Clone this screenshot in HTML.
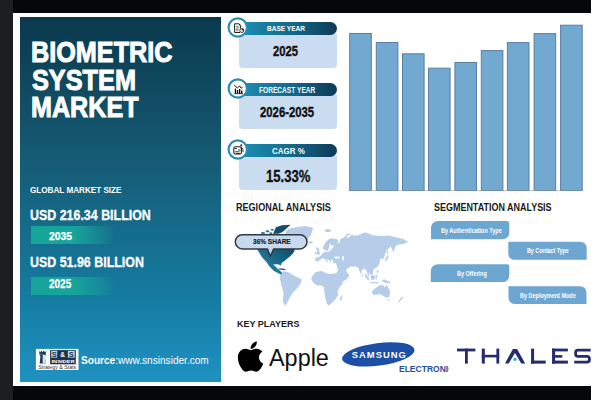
<!DOCTYPE html>
<html><head><meta charset="utf-8">
<style>
*{margin:0;padding:0;box-sizing:border-box}
html,body{width:600px;height:400px;overflow:hidden;background:#fff;font-family:"Liberation Sans",sans-serif}
.abs{position:absolute}
#leftstrip{left:0;top:0;width:13px;height:400px;background:#1c1f21}
#topbar{left:13px;top:0;width:578px;height:13px;background:#050708}
#botbar{left:13px;top:386px;width:578px;height:14px;background:#050708}
#card{left:13px;top:13px;width:578px;height:373px;background:#fff}
#panel{left:20px;top:17px;width:201px;height:365px;background:linear-gradient(180deg,#0a394d 0%,#155a73 38%,#157ba0 76%,#1f92c2 100%)}
.title{left:32px;color:#fff;font-weight:bold;font-size:27px;line-height:28px;white-space:nowrap}
.lbl{color:#fff;font-weight:bold;white-space:nowrap}
.tx{white-space:nowrap;line-height:1;transform-origin:0 0}
.b{font-weight:bold}
.bar{left:31.3px;width:84px;height:18px;background:linear-gradient(90deg,#16a59b 0%,#17a49a 50%,rgba(23,164,154,0.45) 80%,rgba(23,164,154,0) 100%)}
.card3{left:239px;width:98px;background:#c9dcf0;border-radius:0 0 4px 4px}
.hdr{left:240px;width:97.4px;border-radius:0 7px 7px 0;background:linear-gradient(90deg,#1b8fb3 0%,#136c8e 50%,#0e3a56 100%);color:#fff;font-weight:bold;font-size:8px;text-align:center;line-height:13px}
.circ{width:20px;height:20px;border-radius:50%;border:2px solid #268db5;background:#fff}
.val{color:#111;font-weight:bold;text-align:center;white-space:nowrap}
.cbar{width:23px;background:#6ca7d5;border:1px solid #5a86aa;border-bottom:none}
.sec{color:#1a1a1a;font-weight:bold;font-size:10px;white-space:nowrap}
.seg{height:18px;background:#6fa6d1;color:#fff;font-size:8px;text-align:center;line-height:18px;white-space:nowrap}
</style></head><body>
<div class="abs" id="leftstrip"></div>
<div class="abs" id="topbar"></div>
<div class="abs" id="card"></div>
<div class="abs" id="botbar"></div>
<div class="abs" id="panel"></div>

<div class="abs tx b" style="left:31.4px;top:37.2px;font-size:29.5px;transform:scaleX(0.855);color:#fff;-webkit-text-stroke:1px #fff">BIOMETRIC</div>
<div class="abs tx b" style="left:31.9px;top:64.9px;font-size:29.5px;transform:scaleX(0.857);color:#fff;-webkit-text-stroke:1px #fff">SYSTEM</div>
<div class="abs tx b" style="left:30.9px;top:92.2px;font-size:29.5px;transform:scaleX(0.852);color:#fff;-webkit-text-stroke:1px #fff">MARKET</div>

<div class="abs tx b" style="left:30.2px;top:185.8px;font-size:9.3px;transform:scaleX(0.874);color:#fff">GLOBAL MARKET SIZE</div>
<div class="abs tx b" style="left:30.4px;top:206.7px;font-size:15.2px;transform:scaleX(0.818);color:#fff;-webkit-text-stroke:0.3px #fff">USD 216.34 BILLION</div>
<div class="abs bar" style="top:226px"></div>
<div class="abs tx b" style="left:48.7px;top:230.7px;font-size:11.3px;transform:scaleX(0.92);color:#fff;-webkit-text-stroke:0.25px #fff">2035</div>
<div class="abs tx b" style="left:30.4px;top:253.6px;font-size:15.2px;transform:scaleX(0.818);color:#fff;-webkit-text-stroke:0.3px #fff">USD 51.96 BILLION</div>
<div class="abs bar" style="top:277px"></div>
<div class="abs tx b" style="left:49.4px;top:279.3px;font-size:11.9px;transform:scaleX(0.84);color:#fff;-webkit-text-stroke:0.25px #fff">2025</div>

<!-- logo -->
<div class="abs tx" style="left:80.6px;top:355.1px;font-size:10.5px;transform:scaleX(0.96);color:#fff"><b>Source</b>:www.snsinsider.com</div>

<!-- info cards -->
<div class="abs card3" style="top:34px;height:34px"></div>
<div class="abs hdr" style="top:21.7px;height:12.9px"></div>
<div class="abs tx b" style="left:267.3px;top:25px;font-size:8px;transform:scaleX(0.814);color:#fff">BASE YEAR</div>
<div class="abs tx b" style="left:272.8px;top:44.15px;font-size:14px;transform:scaleX(0.806);color:#111;-webkit-text-stroke:0.35px #111">2025</div>

<div class="abs card3" style="top:95px;height:34px"></div>
<div class="abs hdr" style="top:82.6px;height:13.1px"></div>
<div class="abs tx b" style="left:259.4px;top:86.6px;font-size:8.17px;transform:scaleX(0.809);color:#fff">FORECAST YEAR</div>
<div class="abs tx b" style="left:259.9px;top:106.4px;font-size:13.9px;transform:scaleX(0.815);color:#111;-webkit-text-stroke:0.35px #111">2026-2035</div>

<div class="abs card3" style="top:156px;height:33.5px"></div>
<div class="abs hdr" style="top:143.5px;height:13.4px"></div>
<div class="abs tx b" style="left:272.2px;top:145.9px;font-size:9.44px;transform:scaleX(0.846);color:#fff">CAGR %</div>
<div class="abs tx b" style="left:266.1px;top:168.9px;font-size:16.76px;transform:scaleX(0.779);color:#111;-webkit-text-stroke:0.35px #111">15.33%</div>

<svg class="abs" style="left:0;top:0" width="600" height="400" viewBox="0 0 600 400">
<g id="bars"><rect x="349.7" y="33.5" width="21.6" height="157.0" fill="#71a9d0" stroke="#5b7fa0" stroke-width="1"/><rect x="376.3" y="42.5" width="21.6" height="148.0" fill="#71a9d0" stroke="#5b7fa0" stroke-width="1"/><rect x="402.5" y="53.8" width="21.6" height="136.7" fill="#71a9d0" stroke="#5b7fa0" stroke-width="1"/><rect x="428.5" y="68.2" width="21.6" height="122.3" fill="#71a9d0" stroke="#5b7fa0" stroke-width="1"/><rect x="454.9" y="62.5" width="21.6" height="128.0" fill="#71a9d0" stroke="#5b7fa0" stroke-width="1"/><rect x="481.3" y="50.6" width="21.6" height="139.9" fill="#71a9d0" stroke="#5b7fa0" stroke-width="1"/><rect x="507.4" y="42.6" width="21.6" height="147.9" fill="#71a9d0" stroke="#5b7fa0" stroke-width="1"/><rect x="534.1" y="33.6" width="21.6" height="156.9" fill="#71a9d0" stroke="#5b7fa0" stroke-width="1"/><rect x="560.6" y="25.2" width="21.6" height="165.3" fill="#71a9d0" stroke="#5b7fa0" stroke-width="1"/><line x1="348.5" y1="190.6" x2="583" y2="190.6" stroke="#8a98a4" stroke-width="0.6"/></g>
<g id="seg" fill="#6ca6d1">
<path d="M431,229 Q431,221 439,221 H507 Q509.3,221 509.3,223.5 V232 Q509.3,239.2 502,239.2 H431 Z"/>
<path d="M508.3,241.8 H579.5 Q586.7,241.8 586.7,249 V259.8 H515 Q508.3,259.8 508.3,253 Z"/>
<path d="M430.8,272 Q430.8,264.2 438.6,264.2 H507 Q509.3,264.2 509.3,266.5 V275 Q509.3,282.1 502,282.1 H430.8 Z"/>
<path d="M508.5,286.3 H579.5 Q586.5,286.3 586.5,293.3 V303.9 H515 Q508.5,303.9 508.5,297 Z"/>
</g>
<g id="map">
<defs><linearGradient id="nag" x1="0" y1="1" x2="1" y2="0"><stop offset="0" stop-color="#2a93b8"/><stop offset="0.55" stop-color="#17607f"/><stop offset="1" stop-color="#0d3550"/></linearGradient></defs>
<g fill="#b5cde8"><path d="M285.0,234.5 L286.0,231.0 L288.5,229.0 L297.0,227.0 L305.0,226.0 L313.0,227.8 L312.5,230.0 L310.8,235.5 L308.5,238.0 L306.5,241.0 L303.0,244.5 L300.0,246.0 L297.0,241.0 L294.0,236.0 Z"/><path d="M315.0,260.5 L315.5,257.5 L319.0,257.0 L321.0,255.5 L323.0,253.0 L325.0,251.5 L327.0,252.0 L329.0,251.5 L331.0,250.0 L333.0,247.5 L334.5,245.8 L331.0,245.2 L330.5,243.0 L329.5,245.0 L329.0,247.5 L328.0,250.5 L326.5,251.0 L325.0,249.8 L322.5,248.5 L323.5,246.0 L325.5,242.5 L328.0,240.0 L331.0,238.3 L334.0,238.5 L337.5,239.5 L338.5,241.5 L337.0,243.0 L340.0,242.5 L340.0,239.5 L345.0,237.0 L349.0,237.5 L352.0,234.2 L354.0,236.0 L359.0,235.1 L364.5,232.5 L367.0,232.8 L371.5,235.1 L380.0,236.0 L389.0,235.6 L397.7,237.7 L403.0,239.0 L408.2,242.1 L403.0,243.9 L399.0,244.5 L396.0,245.6 L394.5,249.0 L393.3,252.6 L392.0,249.0 L390.7,246.5 L386.3,250.8 L385.0,254.0 L384.6,256.1 L382.8,259.6 L381.5,258.0 L380.0,260.0 L379.3,264.0 L378.0,266.0 L376.7,267.5 L374.5,268.5 L373.2,270.1 L373.0,273.0 L371.5,275.3 L370.0,274.0 L369.0,272.0 L368.8,277.9 L367.5,274.0 L366.2,270.1 L364.0,268.5 L362.0,270.0 L361.0,274.4 L359.5,271.0 L358.4,268.3 L356.0,266.5 L354.0,266.6 L351.0,266.5 L348.0,268.0 L346.0,270.0 L347.0,272.5 L349.5,275.0 L347.0,279.0 L342.0,282.0 L339.5,278.0 L337.0,274.5 L336.9,272.8 L338.0,270.0 L336.0,263.0 L333.0,263.0 L333.0,259.0 L331.0,260.5 L331.0,263.0 L329.5,260.5 L327.0,259.0 L328.0,263.5 L325.0,259.0 L323.0,258.0 L321.0,259.0 L318.0,261.5 Z"/><path d="M311.2,278.6 L312.7,275.5 L315.4,272.3 L321.7,270.7 L323.8,272.3 L329.0,273.9 L334.3,273.4 L336.9,272.8 L341.6,274.4 L346.9,278.1 L341.6,281.8 L343.2,283.3 L339.5,287.0 L337.4,292.3 L338.5,294.4 L335.3,299.6 L329.0,305.4 L326.9,303.8 L325.3,297.5 L324.3,291.2 L323.8,287.5 L321.7,285.4 L317.5,285.4 L315.4,284.4 L312.7,281.8 Z"/><path d="M280.7,274.0 L283.5,271.2 L288.5,272.3 L294.2,275.7 L302.0,279.6 L300.3,284.1 L296.4,289.2 L292.5,293.1 L290.2,297.0 L288.0,301.0 L285.2,306.0 L282.9,302.1 L283.5,293.1 L280.7,281.9 L279.6,277.9 Z"/><path d="M372.0,291.0 L375.0,288.5 L380.0,285.0 L383.0,285.0 L385.0,287.5 L386.5,284.5 L390.0,291.0 L389.5,297.0 L386.0,297.5 L380.0,294.0 L374.0,295.0 L372.5,294.0 Z"/><path d="M316.5,247.0 L318.5,248.0 L319.5,252.0 L320.0,254.5 L316.5,254.5 L317.5,251.0 L316.0,249.0 Z"/><path d="M388.0,254.3 L388.6,256.5 L387.2,259.5 L385.5,261.3 L384.6,260.5 L386.5,257.0 Z"/><path d="M364.5,273.0 L367.0,275.5 L369.5,280.0 L368.0,280.3 L365.0,276.5 Z"/><path d="M370.0,282.0 L378.5,282.3 L378.5,283.5 L370.0,283.2 Z"/><path d="M370.5,276.0 L373.0,275.0 L375.0,276.5 L374.5,279.5 L371.5,280.0 Z"/><path d="M375.5,274.5 L377.5,275.0 L376.5,278.0 L377.5,280.0 L375.5,279.0 Z"/><path d="M382.0,280.0 L385.0,279.5 L390.0,282.0 L390.5,283.2 L386.0,283.0 L382.5,281.5 Z"/><path d="M402.5,296.5 L403.2,297.2 L401.0,300.0 L398.5,302.5 L398.0,301.8 L400.5,298.5 Z"/><path d="M342.7,294.9 L341.8,299.0 L340.3,300.9 L339.8,299.5 L341.0,296.0 Z"/><ellipse cx="310.5" cy="242.4" rx="2.3" ry="1.1"/><ellipse cx="327.8" cy="230.5" rx="3" ry="1.5"/><path d="M344.5,238 Q346,234.5 350,233.8" fill="none" stroke="#b5cde8" stroke-width="1.3"/><ellipse cx="315.8" cy="252.8" rx="0.9" ry="1.4"/><ellipse cx="362.2" cy="275.3" rx="0.8" ry="1"/><ellipse cx="377.6" cy="271.5" rx="0.8" ry="1.5"/><ellipse cx="388.3" cy="300.2" rx="1" ry="0.8"/><ellipse cx="387.6" cy="252" rx="0.6" ry="1.8"/></g>
<g fill="#fff"><ellipse cx="337" cy="257.5" rx="3" ry="1.1"/><ellipse cx="343" cy="258.3" rx="0.9" ry="2.6"/></g>
<path fill="#134e6d" d="M273.0,233.8 L276.0,227.2 L282.0,225.2 L290.5,224.8 L286.5,228.5 L282.5,232.0 L278.5,233.8 Z"/><g fill="#2b7c9c"><ellipse cx="263" cy="233" rx="2.2" ry="1"/><ellipse cx="267.5" cy="231.3" rx="2" ry="1.1"/><ellipse cx="270.8" cy="233.2" rx="1.6" ry="0.9"/><ellipse cx="272.3" cy="229.8" rx="1.5" ry="1"/></g><path fill="url(#nag)" d="M257.0,249.0 L252.0,243.0 L252.5,235.5 L262.0,234.6 L275.0,234.6 L288.0,235.0 L294.0,240.0 L296.5,246.0 L294.6,249.5 L294.2,251.5 L292.5,254.0 L289.3,257.0 L286.5,259.2 L283.8,261.5 L281.8,262.8 L280.8,265.8 L279.6,264.8 L277.0,264.3 L273.0,264.6 L275.0,266.0 L276.5,267.5 L277.8,269.0 L279.8,270.5 L281.8,272.5 L282.0,274.2 L280.5,274.2 L277.5,272.8 L274.0,271.0 L271.5,268.5 L269.0,266.0 L266.5,262.0 L264.0,259.5 L261.5,256.5 L259.2,252.5 Z"/><path fill="url(#nag)" d="M278.0,268.5 L283.0,268.6 L286.7,270.0 L284.0,270.2 L279.0,269.4 Z"/>
</g>
<g id="tooltip">
<path d="M242.4,234.7 H299.9 A7.1,7.1 0 0 1 299.9,248.9 H273.7 L270.3,256.2 L267.5,248.9 H242.4 A7.1,7.1 0 0 1 242.4,234.7 Z" fill="#c6d9ee" stroke="#33373e" stroke-width="1.5" stroke-linejoin="round"/>
</g>
<g id="apple"><path transform="translate(237.6,339.4) scale(0.0672)" fill="#000" d="M318.7 268.7c-.2-36.7 16.4-64.4 50-84.8-18.8-26.9-47.2-41.7-84.7-44.6-35.5-2.8-74.3 20.7-88.5 20.7-15 0-49.4-19.7-76.4-19.7C63.3 141.2 4 184.8 4 273.5q0 39.3 14.4 81.2c12.8 36.7 59 126.7 107.2 125.2 25.2-.6 43-17.9 75.8-17.9 31.8 0 48.3 17.9 76.4 17.9 48.6-.7 90.4-82.5 102.6-119.3-65.2-30.7-61.7-90-61.7-91.9zm-56.6-164.2c27.3-32.4 24.8-61.9 24-72.5-24.1 1.4-52 16.4-67.9 34.9-17.5 19.8-27.8 44.3-25.6 71.9 26.1 2 49.9-11.4 69.5-34.3z"/></g>
<g id="samsung"><ellipse cx="378.3" cy="354.4" rx="36.5" ry="11.3" transform="rotate(-7.5 378.3 354.4)" fill="#1d4fa6"/></g>
<g id="thales" fill="#262a6e">
<rect x="457" y="348.6" width="18.4" height="2.8"/><rect x="465" y="348.6" width="2.8" height="15"/>
<rect x="481.8" y="348.6" width="3" height="15"/><rect x="496.4" y="348.6" width="2.8" height="15"/><rect x="481.8" y="354.8" width="17.4" height="2.6"/>
<path d="M505,363.6 L512.9,348.9 H517.1 L525.2,363.6 H521.3 L515,352.9 L508.7,363.6 Z"/>
<rect x="531.1" y="348.6" width="3" height="15"/><rect x="531.1" y="360.6" width="14.6" height="3"/>
<rect x="552.1" y="348.6" width="3" height="15"/><rect x="552.1" y="348.6" width="15.8" height="2.8"/><rect x="552.1" y="355.1" width="10.2" height="2.6"/><rect x="552.1" y="360.6" width="15.8" height="3"/>
<path d="M590.7,350.1 H578 Q575.6,350.1 575.6,352.5 V353.9 Q575.6,356.3 578,356.3 H587 Q589.4,356.3 589.4,358.7 V359.8 Q589.4,362.2 587,362.2 H574.2" fill="none" stroke="#262a6e" stroke-width="2.8"/>
<circle cx="515" cy="359.2" r="1.8" fill="#3db4d6"/>
</g>
<g id="icons">
<circle cx="237.8" cy="27.5" r="9.2" fill="#fff" stroke="#2a8cb4" stroke-width="2.2"/>
<circle cx="237.8" cy="88.5" r="9.2" fill="#fff" stroke="#2a8cb4" stroke-width="2.2"/>
<circle cx="237.8" cy="149.5" r="9.2" fill="#fff" stroke="#2a8cb4" stroke-width="2.2"/>
<!-- doc icon -->
<path d="M234.6,23.8 H239 L240.6,25.4 V28.6 M240,32.5 H234.6 V23.8" fill="none" stroke="#222" stroke-width="1"/>
<path d="M239,23.6 L240.8,25.4 H239 Z" fill="#222"/>
<path d="M235.8,26.6 H238.8 M235.8,28 H239.5 M235.8,29.4 H238.5 M235.8,30.8 H238.5" stroke="#555" stroke-width="0.7"/>
<circle cx="241.8" cy="30.5" r="2" fill="#fff" stroke="#222" stroke-width="0.9"/>
<path d="M241.8,30.5 V28.5 A2,2 0 0 1 243.8,30.5 Z" fill="#222"/>
<!-- chart icon -->
<path d="M234.3,85.2 L237.3,87.9 L239.6,86 L241.2,88.2 L242.6,87.2" fill="none" stroke="#111" stroke-width="1"/>
<path d="M234.4,93.7 H243" stroke="#111" stroke-width="0.8"/>
<rect x="234.8" y="88.6" width="1.3" height="5"/><rect x="236.9" y="90" width="1.3" height="3.6"/><rect x="239" y="89" width="1.3" height="4.6"/><rect x="241.1" y="90.5" width="1.3" height="3.1"/>
<!-- cagr icon -->
<rect x="233.8" y="146.8" width="7.6" height="7.2" rx="1.5" fill="#fff" stroke="#222" stroke-width="1.1"/>
<path d="M234.5,148.5 H237 M238,150 H240.5 M235,151.8 H239.5 M236,153.5 H240" stroke="#222" stroke-width="0.9"/>
<path d="M240.5,147.5 Q243,147.5 243,150 V152" fill="none" stroke="#222" stroke-width="0.9"/>
<circle cx="241.3" cy="145.3" r="1" fill="#222"/>
</g>
<g id="sns">
<rect x="35.9" y="348.9" width="42.6" height="21.1" fill="#fff"/>
<path d="M39,350.6 L40.2,352.4 L41.4,350.4 L42.7,352.3 L43.9,350.4 L45.1,352.4 L46.3,350.6 L45.8,354.8 H39.5 Z" fill="#1b3b5e"/>
<path d="M40,355 H45.5 L45,357.2 L45.7,363.6 H39.6 L40.4,357.2 Z" fill="#1b3b5e"/>
<path d="M42.7,355 H45.5 L45,357.2 L45.7,363.6 H42.7 Z" fill="#cfe6ec"/>
<rect x="50.1" y="350.1" width="25.7" height="14.2" fill="#1c3552"/>
<rect x="51.2" y="350.8" width="6" height="6.8" fill="#b9dde6"/><rect x="67.9" y="350.8" width="6.8" height="6.8" fill="#b9dde6"/>
<text x="54.2" y="356.9" font-family="Liberation Sans" font-weight="bold" font-size="7.5" fill="#1c3552" text-anchor="middle">S</text>
<text x="62.6" y="356.9" font-family="Liberation Sans" font-weight="bold" font-size="6.5" fill="#fff" text-anchor="middle">&amp;</text>
<text x="71.3" y="356.9" font-family="Liberation Sans" font-weight="bold" font-size="7.5" fill="#1c3552" text-anchor="middle">S</text>
<text x="63" y="362.8" font-family="Liberation Sans" font-weight="bold" font-size="4.3" fill="#fff" text-anchor="middle" textLength="23" lengthAdjust="spacingAndGlyphs">INSIDER</text>
<text x="57.2" y="368.9" font-family="Liberation Sans" font-size="4.6" fill="#333" text-anchor="middle" textLength="38" lengthAdjust="spacingAndGlyphs">Strategy &amp; Stats</text>
</g>
</svg>
<div class="abs tx b" style="left:236.4px;top:202.6px;font-size:10.28px;transform:scaleX(0.882);color:#1a1a1a">REGIONAL ANALYSIS</div>
<div class="abs tx b" style="left:434px;top:201.9px;font-size:10.63px;transform:scaleX(0.844);color:#1a1a1a">SEGMENTATION ANALYSIS</div>
<div class="abs tx b" style="left:236.7px;top:318.5px;font-size:9.86px;transform:scaleX(0.915);color:#1a1a1a">KEY PLAYERS</div>


<div class="abs tx b" style="left:441.1px;top:227.2px;font-size:7.5px;transform:scaleX(0.733);color:#fff">By Authentication Type</div>
<div class="abs tx b" style="left:526.5px;top:246.8px;font-size:7.7px;transform:scaleX(0.695);color:#fff">By Contact Type</div>
<div class="abs tx b" style="left:456.5px;top:270px;font-size:7.5px;transform:scaleX(0.73);color:#fff">By Offering</div>
<div class="abs tx b" style="left:519.5px;top:291.5px;font-size:7.9px;transform:scaleX(0.695);color:#fff">By Deployment Mode</div>
<div class="abs tx b" style="left:252.6px;top:238.4px;font-size:7.9px;transform:scaleX(0.827);color:#151a24;-webkit-text-stroke:0.15px #151a24">36% SHARE</div>
<div class="abs tx" style="left:268.8px;top:346.1px;font-size:24.15px;transform:scaleX(0.97);color:#111">Apple</div>
<div class="abs tx b" style="left:351.7px;top:350px;font-size:9.4px;letter-spacing:1.05px;color:#fff">SAMSUNG</div>
<div class="abs" style="left:399px;top:360px;width:50px;height:16px;overflow:hidden"><div class="abs tx b" style="left:0.4px;top:4.9px;font-size:8.87px;transform:scaleX(0.96);color:#1f4fa0">ELECTRONIC</div></div>
</body></html>
